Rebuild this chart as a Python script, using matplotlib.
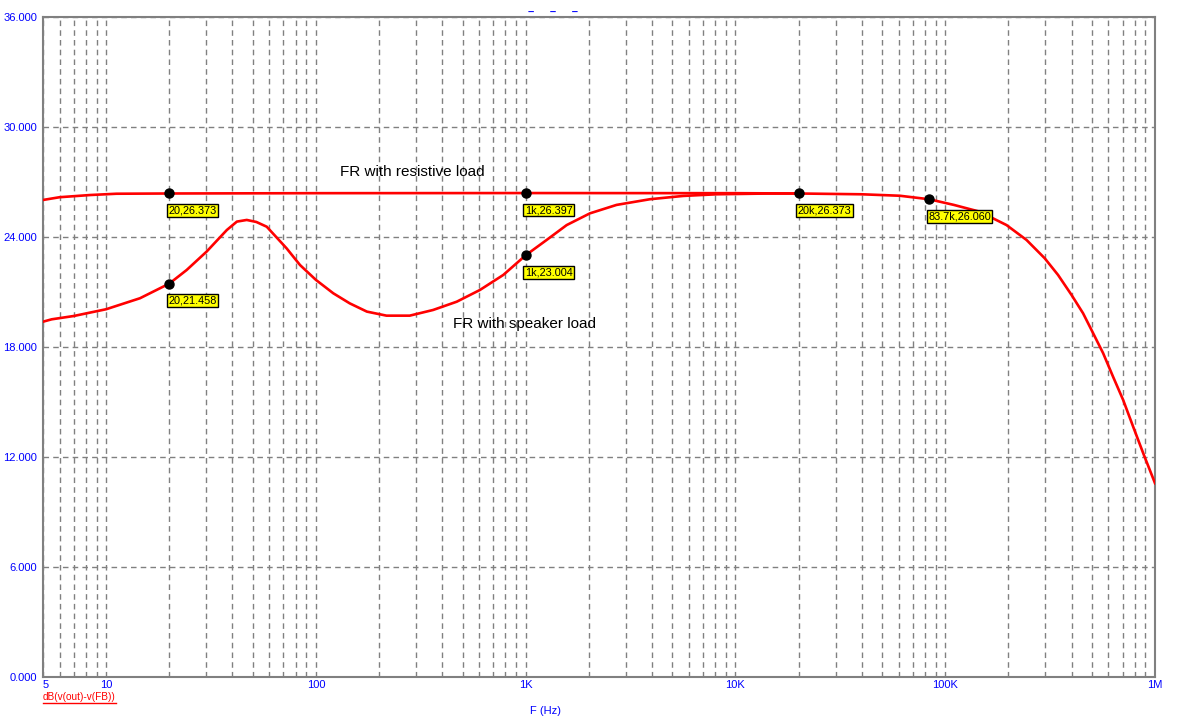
import matplotlib
matplotlib.use("Agg")
import matplotlib.pyplot as plt
from matplotlib.ticker import FixedLocator, FuncFormatter, NullFormatter
from matplotlib.lines import Line2D

plt.rcParams['font.family'] = ['Liberation Sans', 'DejaVu Sans']

# FR with resistive load (Hz, dB)
res_f = [5, 6, 8.4, 11.2, 20, 100, 1000, 10000, 20000, 40000, 60800, 83700,
         110000, 146000, 196000, 244000, 298000, 345000, 400000, 454000,
         498000, 566000, 631000, 705000, 787000, 879000, 1000000]
res_db = [26.02, 26.17, 26.29, 26.36, 26.373, 26.39, 26.397, 26.39, 26.373,
          26.33, 26.25, 26.06, 25.75, 25.38, 24.65, 23.84, 22.84, 21.93,
          20.84, 19.84, 18.93, 17.66, 16.38, 15.11, 13.65, 12.20, 10.57]

# FR with speaker load (Hz, dB)
spk_f = [5, 5.5, 7, 10, 14.5, 20, 24.2, 30.1, 37.6, 42, 46.8, 52, 58.3, 72.5,
         84, 100, 121, 145, 175, 217, 280, 362, 469, 605, 782, 1000, 1259,
         1568, 2024, 2710, 3909, 5636, 8125, 14000, 20000]
spk_db = [19.38, 19.51, 19.69, 20.06, 20.66, 21.458, 22.2, 23.2, 24.38, 24.84,
          24.93, 24.82, 24.56, 23.38, 22.47, 21.66, 20.93, 20.38, 19.93, 19.71,
          19.71, 20.02, 20.47, 21.11, 21.93, 23.004, 23.84, 24.65, 25.29,
          25.75, 26.06, 26.24, 26.33, 26.37, 26.373]

# cursor markers
mark_f = [20, 1000, 20000, 83700, 20, 1000]
mark_db = [26.373, 26.397, 26.373, 26.060, 21.458, 23.004]
mark_txt = ['20,26.373', '1k,26.397', '20k,26.373', '83.7k,26.060',
            '20,21.458', '1k,23.004']

y_ticks = [0, 6, 12, 18, 24, 30, 36]
x_major = [5, 10, 100, 1000, 10000, 100000, 1000000]
x_major_lbl = ['5', '10', '100', '1K', '10K', '100K', '1M']

fig = plt.figure(figsize=(11.81, 7.28), dpi=100)
ax = fig.add_axes([43 / 1181, 1 - 677 / 728, (1155 - 43) / 1181, (677 - 17) / 728])

ax.plot(res_f, res_db, color='#ff0000', lw=1.9, zorder=3)
ax.plot(spk_f, spk_db, color='#ff0000', lw=1.9, zorder=3)
ax.plot(mark_f, mark_db, 'o', color='black', ms=6.5, zorder=4)

for f, d, t in zip(mark_f, mark_db, mark_txt):
    ax.annotate(t, (f, d), xytext=(-1, -12), textcoords='offset pixels',
                ha='left', va='top', fontsize=7.8, color='black', zorder=5,
                bbox=dict(boxstyle='square,pad=0.12', fc='#ffff00', ec='black', lw=1))

ax.text(130, 27.55, 'FR with resistive load', fontsize=11, ha='left', va='center')
ax.text(450, 19.25, 'FR with speaker load', fontsize=11, ha='left', va='center')

ax.set_xscale('log')
ax.set_xlim(5, 1e6)
ax.set_ylim(0, 36)

minor = []
for dec in [1, 10, 100, 1000, 10000, 100000]:
    for m in range(2, 10):
        if 5 < m * dec < 1e6:
            minor.append(m * dec)
ax.xaxis.set_major_locator(FixedLocator(x_major))
ax.xaxis.set_major_formatter(FuncFormatter(lambda v, p: x_major_lbl[x_major.index(v)] if v in x_major else ''))
ax.xaxis.set_minor_locator(FixedLocator(minor))
ax.xaxis.set_minor_formatter(NullFormatter())
ax.yaxis.set_major_locator(FixedLocator(y_ticks))
ax.yaxis.set_major_formatter(FuncFormatter(lambda v, p: '%.3f' % v))

ax.tick_params(which='both', length=0, labelsize=8, labelcolor='#0000ff')
ax.tick_params(axis='x', pad=2)
ax.tick_params(axis='y', pad=4)
ax.get_xticklabels()[0].set_ha('left')

ax.grid(True, which='both', axis='x', color='#808080', ls=(0, (4, 3)), lw=1)
ax.grid(True, which='major', axis='y', color='#808080', ls=(0, (4, 3)), lw=1)

for s in ax.spines.values():
    s.set_color('#808080')
    s.set_linewidth(1.5)

fig.text(546 / 1181, 1 - 711 / 728, 'F (Hz)', color='#0000ff', fontsize=8,
         ha='center', va='center')
fig.text(553 / 1181, 1 - 12 / 728, '\u2013     \u2013     \u2013', color='#0000ff',
         fontsize=8, ha='center', va='center', fontweight='bold')

lbl = fig.text(43 / 1181, 1 - 697 / 728, 'dB(v(out)-v(FB))', color='#ff0000',
               fontsize=7.2, ha='left', va='center')
fig.canvas.draw()
bb = lbl.get_window_extent().transformed(fig.transFigure.inverted())
fig.add_artist(Line2D([bb.x0, bb.x1], [bb.y0 - 0.001, bb.y0 - 0.001],
                      transform=fig.transFigure, color='#ff0000', lw=1))

fig.savefig('out.png', dpi=100)
